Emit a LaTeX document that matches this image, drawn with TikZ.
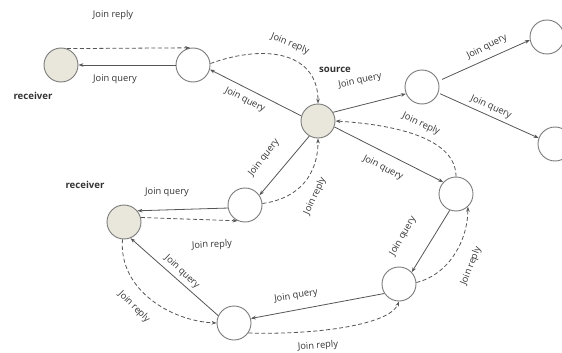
\documentclass[tikz,border=0pt]{standalone}
\usepackage{fontspec}
\setmainfont{Open Sans}
\usetikzlibrary{arrows.meta}
\definecolor{ringgray}{HTML}{7A7A7A}
\definecolor{linegray}{HTML}{555555}
\definecolor{txtgray}{HTML}{333333}
\definecolor{beige}{HTML}{E9E7DC}
\begin{document}
\begin{tikzpicture}[x=1pt,y=-1pt,
  peer/.style={circle,draw=ringgray,line width=0.9pt,minimum size=34pt,inner sep=0pt,fill=white},
  member/.style={peer,fill=beige},
  query/.style={draw=linegray,line width=0.8pt,-{Stealth[length=5pt,width=3.6pt]}},
  reply/.style={query,dash pattern=on 4pt off 2.5pt},
  lbl/.style={font=\fontsize{9.3}{10}\selectfont,text=txtgray,inner sep=0pt},
  role/.style={font=\bfseries\fontsize{9.6}{11}\selectfont,text=txtgray,inner sep=0pt}]
\useasboundingbox (0,0) rectangle (562,353);

% multicast tree nodes
\node[member] (r1) at (61,65) {};
\node[peer] (a) at (193,65) {};
\node[member] (s) at (318,121) {};
\node[peer] (b) at (422,87) {};
\node[peer] (c) at (547,37) {};
\node[peer] (d) at (555,144) {};
\node[peer] (e) at (456,194) {};
\node[peer] (f) at (399,284) {};
\node[peer] (g) at (234,323) {};
\node[member] (r2) at (124,222) {};
\node[peer] (h) at (245,205) {};

% join queries (solid) and join replies (dashed)
\draw[reply] (r1.70) -- (a.100);
\draw[query] (a.west) -- (r1.east);
\draw[query] (s.163) -- (a.-15);
\draw[reply] (a.5) .. controls +(59,-21) and +(0,-49) .. (s.north);
\draw[query] (s.30) -- (b.203);
\draw[query,shorten <=4pt] (b.20) -- (c.190);
\draw[query,shorten <=2pt] (b.-20) -- (d.160);
\draw[query] (s.-20) -- (e.137);
\draw[reply] (e.north) .. controls +(0,-37) and +(64,4) .. (s.east);
\draw[query] (s.240) -- (h.34);
\draw[reply] (h.5) .. controls +(37,-5) and +(0,36) .. (s.south);
\draw[query] (h.190) -- (r2.40);
\draw[reply] (r2.15) -- (h.245);
\draw[query] (g.155) -- (r2.-68);
\draw[reply] (r2.265) .. controls +(-4,50) and +(-46,-2) .. (g.west);
\draw[query] (f.213) -- (g.15);
\draw[reply] (g.-35) .. controls +(70,2) and +(-9,23) .. (f.south);
\draw[query] (e.249) -- (f.43);
\draw[reply] (f.5) .. controls +(33,-8) and +(0,33) .. (e.-47);

% labels
\node[lbl] (t1) at (113,15) {Join reply};
\node[lbl] (t2) at (115,79) {Join query};
\node[role] (rc1) at (33,96) {receiver};
\node[lbl,rotate=-22] (t3) at (290,44) {Join reply};
\node[role] (src) at (335,70) {source};
\node[lbl,rotate=-27] (t4) at (245,100) {Join query};
\node[lbl,rotate=12] (t5) at (360,81) {Join query};
\node[lbl,rotate=27] (t6) at (487,47) {Join query};
\node[lbl,rotate=-24] (t7) at (491,107) {Join query};
\node[lbl,rotate=-25] (t8) at (421,124) {Join reply};
\node[lbl,rotate=-27] (t9) at (383,168) {Join query};
\node[lbl,rotate=52] (t10) at (264,158) {Join query};
\node[lbl,rotate=65] (t11) at (315,196) {Join reply};
\node[role] (rc2) at (85,185) {receiver};
\node[lbl] (t12) at (167,192) {Join query};
\node[lbl,rotate=3] (t13) at (212,245) {Join reply};
\node[lbl,rotate=-43] (t14) at (182,272) {Join query};
\node[lbl,rotate=-45] (t15) at (134,307) {Join reply};
\node[lbl,rotate=9] (t16) at (296,296) {Join query};
\node[lbl,rotate=4] (t17) at (318,346) {Join reply};
\node[lbl,rotate=60] (t18) at (403,236) {Join query};
\node[lbl,rotate=68] (t19) at (471,266) {Join reply};
\end{tikzpicture}
\end{document}
